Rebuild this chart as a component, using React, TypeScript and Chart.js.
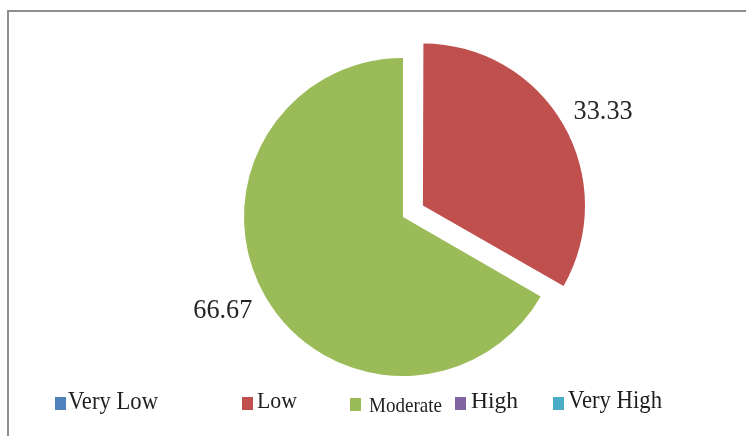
import React, { useEffect, useRef } from "react";
import { Chart, registerables } from "chart.js";

Chart.register(...registerables);

// Risk level categories and their percentage shares
const categories = ["Very Low", "Low", "Moderate", "High", "Very High"];
const shares = [0, 33.33, 66.67, 0, 0];
const sliceColors = ["#4F81BD", "#C0504D", "#9BBB59", "#8064A2", "#4BACC6"];
const valueLabels = ["", "33.33", "66.67", "", ""];
// the "Low" slice is pulled out of the pie
const explode = [0, 92, 0, 0, 0];

// Draws each non-empty slice's value just outside its rim
const sliceValuePlugin = {
  id: "sliceValues",
  afterDatasetsDraw(chart: any) {
    const ctx = chart.ctx;
    const meta = chart.getDatasetMeta(0);
    ctx.save();
    ctx.font = '27px "Liberation Serif", "Times New Roman", serif';
    ctx.fillStyle = "#262626";
    ctx.textBaseline = "middle";
    meta.data.forEach((arc: any, i: number) => {
      const text = valueLabels[i];
      if (!text || !shares[i]) return;
      const mid = (arc.startAngle + arc.endAngle) / 2;
      const shift = (arc.options.offset || 0) / 4;
      const cx = arc.x + Math.cos(mid) * shift;
      const cy = arc.y + Math.sin(mid) * shift;
      const ox = cx + Math.cos(mid) * arc.outerRadius;
      const oy = cy + Math.sin(mid) * arc.outerRadius;
      const sx = Math.sign(Math.cos(mid));
      const sy = Math.sign(Math.sin(mid));
      ctx.textAlign = sx >= 0 ? "left" : "right";
      ctx.fillText(text, ox + sx * 13, oy + sy * 14, 59);
    });
    ctx.restore();
  },
};

// Legend row drawn along the bottom, one swatch + name per category
const legendRowPlugin = {
  id: "legendRow",
  afterDraw(chart: any, _args: any, opts: any) {
    const ctx = chart.ctx;
    const labels: string[] = chart.data.labels;
    const colors: string[] = chart.data.datasets[0].backgroundColor;
    ctx.save();
    ctx.textAlign = "left";
    ctx.textBaseline = "alphabetic";
    labels.forEach((name, i) => {
      const item = opts.items[i];
      ctx.fillStyle = colors[i];
      ctx.fillRect(item.box, item.boxTop, 11, 13);
      ctx.font = `${item.size}px "Liberation Serif", "Times New Roman", serif`;
      ctx.fillStyle = "#1e1e1e";
      ctx.fillText(name, item.text, item.base, item.maxWidth);
    });
    ctx.restore();
  },
};

export default function App() {
  const canvasRef = useRef<HTMLCanvasElement | null>(null);

  useEffect(() => {
    if (!canvasRef.current) return;
    const chart = new Chart(canvasRef.current, {
      type: "pie",
      data: {
        labels: categories,
        datasets: [
          {
            data: shares,
            backgroundColor: sliceColors,
            borderWidth: 0,
            offset: explode,
          },
        ],
      },
      options: {
        responsive: false,
        animation: false,
        radius: 159,
        layout: { padding: { left: 60, right: 0, top: 0, bottom: 2 } },
        plugins: {
          legend: { display: false },
          tooltip: { enabled: false },
          legendRow: {
            items: [
              { box: 55, boxTop: 397, text: 68, base: 409, maxWidth: 90, size: 25 },
              { box: 242, boxTop: 397, text: 257, base: 408, maxWidth: 40, size: 24 },
              { box: 350, boxTop: 398, text: 369, base: 412, maxWidth: 73, size: 22 },
              { box: 455, boxTop: 397, text: 471, base: 408, maxWidth: 47, size: 24 },
              { box: 553, boxTop: 397, text: 568, base: 408, maxWidth: 94, size: 25 },
            ],
          },
        } as any,
      },
      plugins: [sliceValuePlugin, legendRowPlugin],
    });
    return () => chart.destroy();
  }, []);

  return (
    <div
      style={{
        position: "fixed",
        inset: 0,
        overflow: "hidden",
        background: "#ffffff",
      }}
    >
      <div
        style={{
          position: "absolute",
          left: 7,
          top: 10,
          width: 800,
          height: 500,
          borderTop: "2px solid #8e8e8e",
          borderLeft: "2px solid #8e8e8e",
        }}
      />
      <canvas
        ref={canvasRef}
        width={746}
        height={436}
        style={{ position: "absolute", left: 0, top: 0, width: 746, height: 436 }}
      />
    </div>
  );
}
